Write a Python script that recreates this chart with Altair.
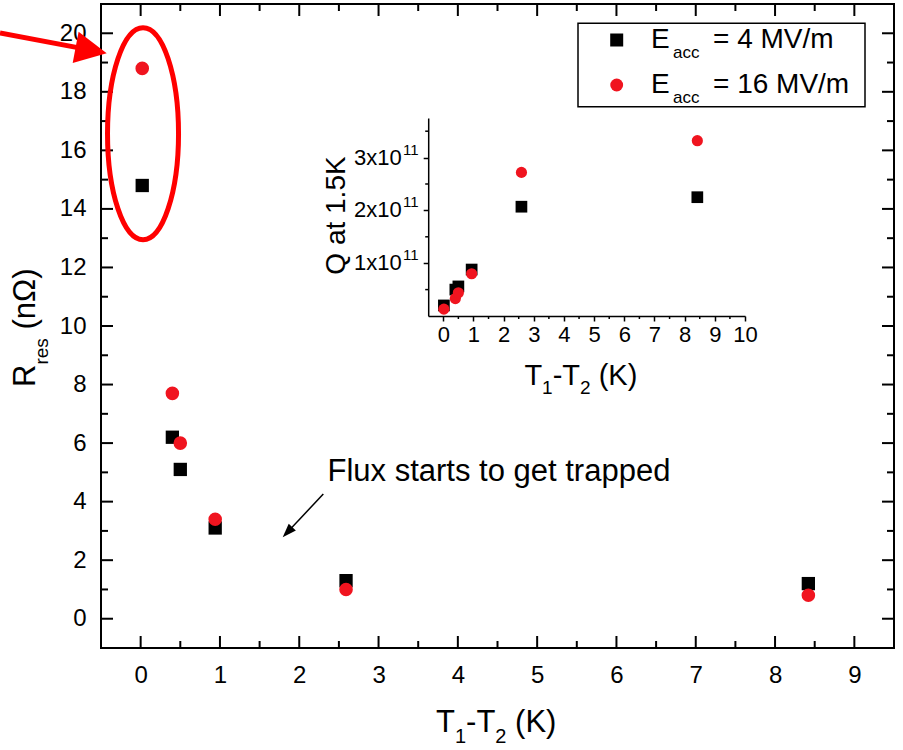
import altair as alt
import pandas as pd

FONT = "Liberation Sans"
RED = "#f0141f"

# ---------------- data ----------------
dT = [0.02, 0.40, 0.50, 0.94, 2.59, 8.42]          # T1-T2 (K)
rres_4 = [14.8, 6.2, 5.1, 3.1, 1.3, 1.2]            # Rres (nOhm), Eacc = 4 MV/m
rres_16 = [18.8, 7.7, 6.0, 3.4, 1.0, 0.8]           # Rres (nOhm), Eacc = 16 MV/m
q_4 = [0.20e11, 0.50e11, 0.56e11, 0.88e11, 2.07e11, 2.25e11]   # inset Q at 1.5K
q_16 = [0.13e11, 0.33e11, 0.44e11, 0.80e11, 2.72e11, 3.32e11]

main_x_major = [0, 1, 2, 3, 4, 5, 6, 7, 8, 9]
main_x_minor = [0.5, 1.5, 2.5, 3.5, 4.5, 5.5, 6.5, 7.5, 8.5]
main_y_major = [0, 2, 4, 6, 8, 10, 12, 14, 16, 18, 20]
main_y_minor = [1, 3, 5, 7, 9, 11, 13, 15, 17, 19]
inset_x_major = [0, 1, 2, 3, 4, 5, 6, 7, 8, 9, 10]
inset_x_minor = [0.5, 1.5, 2.5, 3.5, 4.5, 5.5, 6.5, 7.5, 8.5, 9.5]
inset_y_major = [1e11, 2e11, 3e11]
inset_y_labels = ["1x10", "2x10", "3x10"]
inset_y_minor = [0.5e11, 1.5e11, 2.5e11, 3.5e11]

# highlighted group (ellipse centre, in data units)
ell_x = [0.03]
ell_y = [16.57]

# ---------------- layout ----------------
W, H = 793, 644
IX0, IX1 = 327.2, 644.0     # inset x range (px inside plot)
IY0, IY1 = 312.0, 114.0     # inset y range

XS = alt.Scale(domain=[-0.5, 9.5], range=[0, W], nice=False, zero=False)
YS = alt.Scale(domain=[-1, 21], range=[H, 0], nice=False, zero=False)
XI = alt.Scale(domain=[-0.5, 10], range=[IX0, IX1], nice=False, zero=False)
YI = alt.Scale(domain=[0, 3.75e11], range=[IY0, IY1], nice=False, zero=False)

one = pd.DataFrame({"a": [0]})


def txt(s, x, y, size, angle=0, align="left", baseline="alphabetic", color="black"):
    kw = dict(text=s, fontSize=size, font=FONT, align=align, baseline=baseline, color=color)
    if angle:
        kw["angle"] = angle
    return alt.Chart(one).mark_text(**kw).encode(x=alt.value(x), y=alt.value(y))


def xticks(vals, scale, y0, y1, w=2):
    return alt.Chart(pd.DataFrame({"v": vals})).mark_rule(color="black", strokeWidth=w).encode(
        x=alt.X("v:Q", scale=scale, axis=None), y=alt.value(y0), y2=alt.value(y1))


def yticks(vals, scale, x0, x1, w=2):
    return alt.Chart(pd.DataFrame({"v": vals})).mark_rule(color="black", strokeWidth=w).encode(
        y=alt.Y("v:Q", scale=scale, axis=None), x=alt.value(x0), x2=alt.value(x1))


def t12_title(x0, yb, f, s, sdy):
    a = x0 + 0.611 * f
    b = a + 0.556 * s
    c = b + 0.944 * f
    d = c + 0.556 * s + 0.278 * f
    return [txt("T", x0, yb, f), txt("1", a, yb + sdy, s), txt("-T", b, yb, f),
            txt("2", c, yb + sdy, s), txt("(K)", d, yb, f)]


df4 = pd.DataFrame({"x": dT, "r": rres_4, "q": q_4})
df16 = pd.DataFrame({"x": dT, "r": rres_16, "q": q_16})

ax_main_x = alt.Axis(values=main_x_major, ticks=False, tickSize=0, domain=False, grid=False,
                     labelFontSize=24, labelPadding=15, labelFont=FONT, labelColor="black",
                     labelFlush=False, labelOverlap=False, title=None, orient="bottom")
ax_main_y = alt.Axis(values=main_y_major, ticks=False, tickSize=0, domain=False, grid=False,
                     labelFontSize=24, labelPadding=15, labelFont=FONT, labelColor="black",
                     labelFlush=False, labelOverlap=False, title=None, orient="left")

main_black = alt.Chart(df4).mark_point(shape="square", filled=True, color="black", size=177, opacity=1).encode(
    x=alt.X("x:Q", scale=XS, axis=ax_main_x), y=alt.Y("r:Q", scale=YS, axis=ax_main_y))
main_red = alt.Chart(df16).mark_point(shape="circle", filled=True, color=RED, size=185, opacity=1).encode(
    x=alt.X("x:Q", scale=XS, axis=None), y=alt.Y("r:Q", scale=YS, axis=None))

ax_in_x = alt.Axis(values=inset_x_major, orient="bottom", offset=-(H - IY0), tickSize=5, tickWidth=1.5,
                   domainWidth=1.5, domainColor="black", tickColor="black", grid=False,
                   labelFontSize=22, labelPadding=3, labelFont=FONT, labelColor="black",
                   labelFlush=False, labelOverlap=False, title=None)
ax_in_y = alt.Axis(values=inset_y_major, orient="left", offset=-IX0, tickSize=5, tickWidth=1.5,
                   domainWidth=1.5, domainColor="black", tickColor="black", grid=False,
                   labels=False, title=None)

in_black = alt.Chart(df4).mark_point(shape="square", filled=True, color="black", size=137, opacity=1).encode(
    x=alt.X("x:Q", scale=XI, axis=ax_in_x), y=alt.Y("q:Q", scale=YI, axis=ax_in_y))
in_red = alt.Chart(df16).mark_point(shape="circle", filled=True, color=RED, size=125, opacity=1).encode(
    x=alt.X("x:Q", scale=XI, axis=None), y=alt.Y("q:Q", scale=YI, axis=None))

# inset y tick labels "Nx10^11"
ylab_df = pd.DataFrame({"v": inset_y_major, "t": inset_y_labels, "e": ["11"] * len(inset_y_major)})
in_ylab = alt.Chart(ylab_df).mark_text(font=FONT, fontSize=22, align="right", baseline="middle",
                                       color="black").encode(
    y=alt.Y("v:Q", scale=YI, axis=None), x=alt.value(300.7), text="t:N")
in_ysup = alt.Chart(ylab_df).mark_text(font=FONT, fontSize=15, align="left", baseline="middle",
                                       color="black", dy=-8).encode(
    y=alt.Y("v:Q", scale=YI, axis=None), x=alt.value(302), text="e:N")

# mirrored inward ticks of the main frame
ticks = [
    xticks(main_x_major, XS, H, H - 12), xticks(main_x_minor, XS, H, H - 7),
    xticks(main_x_major, XS, 0, 12), xticks(main_x_minor, XS, 0, 7),
    yticks(main_y_major, YS, 0, 12), yticks(main_y_minor, YS, 0, 7),
    yticks(main_y_major, YS, W, W - 12), yticks(main_y_minor, YS, W, W - 7),
    xticks(inset_x_minor, XI, IY0, IY0 + 3, 1.5),
    yticks(inset_y_minor, YI, IX0, IX0 - 3, 1.5),
]

# ellipse around the first points
a, k = 0.335, 0.5523
ELL = (f"M{a},0 C{a},{k} {a*k:.4f},1 0,1 C{-a*k:.4f},1 {-a},{k} {-a},0 "
       f"C{-a},{-k} {-a*k:.4f},-1 0,-1 C{a*k:.4f},-1 {a},{-k} {a},0 Z")
ellipse = alt.Chart(pd.DataFrame({"x": ell_x, "y": ell_y})).mark_point(
    shape=ELL, size=44944, filled=False, color="#ff0000", strokeWidth=5, opacity=1).encode(
    x=alt.X("x:Q", scale=XS, axis=None), y=alt.Y("y:Q", scale=YS, axis=None))

HEAD = "M0,0 L-2,-1 L-2,1 Z"
red_shaft = alt.Chart(one).mark_rule(color="#ff0000", strokeWidth=5).encode(
    x=alt.value(-101), y=alt.value(29), x2=alt.value(-18), y2=alt.value(44.6))
red_head = alt.Chart(one).mark_point(shape=HEAD, filled=True, color="#ff0000", size=1000, angle=10.8,
                                     opacity=1).encode(x=alt.value(5.7), y=alt.value(49.3))
blk_shaft = alt.Chart(one).mark_rule(color="black", strokeWidth=1.5).encode(
    x=alt.value(222.3), y=alt.value(490), x2=alt.value(188.5), y2=alt.value(526))
blk_head = alt.Chart(one).mark_point(shape="M0,0 L-2,-0.7 L-2,0.7 Z", filled=True, color="black", size=196,
                                     angle=133.2, opacity=1).encode(x=alt.value(181.7), y=alt.value(533.3))

# legend
legend_box = alt.Chart(one).mark_rect(fill="white", stroke="black", strokeWidth=1.5).encode(
    x=alt.value(477), x2=alt.value(764), y=alt.value(19.3), y2=alt.value(102.7))
leg_sq = alt.Chart(one).mark_point(shape="square", filled=True, color="black", size=169, opacity=1).encode(
    x=alt.value(515.7), y=alt.value(36))
leg_ci = alt.Chart(one).mark_point(shape="circle", filled=True, color=RED, size=165, opacity=1).encode(
    x=alt.value(515.7), y=alt.value(81))
legend = [legend_box, leg_sq, leg_ci,
          txt("E", 550, 44.3, 28), txt("acc", 572, 54.3, 17), txt("= 4 MV/m", 612, 44.3, 28),
          txt("E", 550, 89.3, 28), txt("acc", 572, 99.3, 17), txt("= 16 MV/m", 612, 89.3, 28)]

titles = (t12_title(335, 727.7, 31, 20, 11) + t12_title(423.4, 381, 29, 19, 9) + [
    txt("R", -66, 383, 31, angle=270),
    txt("res", -53, 360.6, 19, angle=270),
    txt("(n\u03a9)", -66, 334.2 - 0.278 * 31, 31, angle=270),
    txt("Q at 1.5K", 244, 211.5, 28, angle=270, align="center"),
    txt("Flux starts to get trapped", 226.5, 476.7, 31),
])

layers = ticks + [ellipse, main_black, main_red, in_black, in_red, in_ylab, in_ysup,
                  red_shaft, red_head, blk_shaft, blk_head] + legend + titles

chart = alt.layer(*layers).resolve_scale(x="independent", y="independent").properties(
    width=W, height=H,
    padding={"left": 101, "top": 4, "right": 9, "bottom": 102},
    autosize=alt.AutoSizeParams(type="none"),
    background="white",
).configure_view(stroke="black", strokeWidth=2).configure_axis(labelFont=FONT)

chart.save("out.html", embed_options={"renderer": "svg", "actions": False})
